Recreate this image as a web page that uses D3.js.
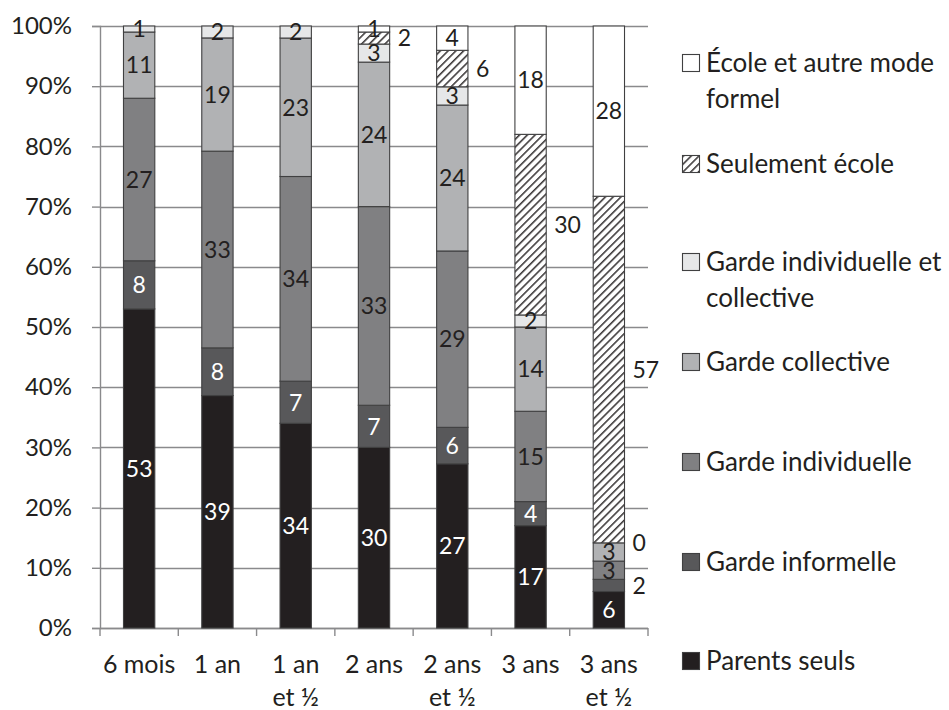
<!DOCTYPE html>
<html lang="fr">
<head>
<meta charset="utf-8">
<script src="https://cdn.jsdelivr.net/npm/d3@7"></script>
<style>
  html, body { margin: 0; padding: 0; background: #fff; }
  svg { display: block; font-family: Lato, "Open Sans", sans-serif; }
</style>
</head>
<body>
<svg id="chart" width="949" height="710"></svg>
<script>
// Age groups (x categories)
const categories = ["6 mois", "1 an", "1 an et ½", "2 ans", "2 ans et ½", "3 ans", "3 ans et ½"];

// Care arrangement shares (%) per age group, stacked bottom to top
const parentsSeuls        = [53, 39, 34, 30, 27, 17, 6];
const gardeInformelle     = [8, 8, 7, 7, 6, 4, 2];
const gardeIndividuelle   = [27, 33, 34, 33, 29, 15, 3];
const gardeCollective     = [11, 19, 23, 24, 24, 14, 3];
const gardeIndivCollect   = [1, 2, 2, 3, 3, 2, 0];
const seulementEcole      = [null, null, null, 2, 6, 30, 57];
const ecoleAutreFormel    = [null, null, null, 1, 4, 18, 28];

const yTicks = [0, 10, 20, 30, 40, 50, 60, 70, 80, 90, 100];

const series = [
  { key: "parents",  name: ["Parents seuls"],                         values: parentsSeuls,      fill: "#231f20", text: "#fff" },
  { key: "informel", name: ["Garde informelle"],                      values: gardeInformelle,   fill: "#58585a", text: "#fff" },
  { key: "indiv",    name: ["Garde individuelle"],                    values: gardeIndividuelle, fill: "#808082", text: "#231f20" },
  { key: "coll",     name: ["Garde collective"],                      values: gardeCollective,   fill: "#b1b2b4", text: "#231f20" },
  { key: "indcoll",  name: ["Garde individuelle et", "collective"],   values: gardeIndivCollect, fill: "#e6e7e8", text: "#231f20" },
  { key: "seul",     name: ["Seulement école"],                       values: seulementEcole,    fill: "url(#hatch)", text: "#231f20" },
  { key: "ecole",    name: ["École et autre mode", "formel"],         values: ecoleAutreFormel,  fill: "#ffffff", text: "#231f20" }
];

const svg = d3.select("#chart");
const margin = { left: 100, right: 301, top: 26, bottom: 82 };
const W = 949, H = 710;
const ink = "#231f20";
const gridGrey = "#8a8a8c";

// Diagonal hatch for "Seulement école"
const defs = svg.append("defs");
const pat = defs.append("pattern")
  .attr("id", "hatch").attr("patternUnits", "userSpaceOnUse")
  .attr("width", 5.5).attr("height", 5.5)
  .attr("patternTransform", "rotate(45)");
pat.append("rect").attr("width", 5.5).attr("height", 5.5).attr("fill", "#fff");
pat.append("line").attr("x1", 0.8).attr("y1", 0).attr("x2", 0.8).attr("y2", 5.5)
  .attr("stroke", ink).attr("stroke-width", 1.4);

const x = d3.scaleBand().domain(categories)
  .range([margin.left, W - margin.right]).paddingInner(0.6).paddingOuter(0.3);
const xEdges = d3.scalePoint().domain(d3.range(categories.length + 1))
  .range([margin.left, W - margin.right]);
const y = d3.scaleLinear().domain([0, 1]).range([H - margin.bottom, margin.top]);

// Build a table for d3.stack with normalised (100%) stacking
const rows = categories.map((c, i) => {
  const r = { cat: c };
  series.forEach(s => { r[s.key] = s.values[i] == null ? 0 : s.values[i]; });
  return r;
});
const stacked = d3.stack().keys(series.map(s => s.key)).offset(d3.stackOffsetExpand)(rows);

// Gridlines
svg.append("g").selectAll("line").data(yTicks).join("line")
  .attr("x1", margin.left).attr("x2", W - margin.right)
  .attr("y1", d => Math.round(y(d / 100)) + 0.5).attr("y2", d => Math.round(y(d / 100)) + 0.5)
  .attr("stroke", gridGrey).attr("stroke-width", 1.4);

// Y axis
const yAxis = d3.axisLeft(y).tickValues(yTicks.map(d => d / 100))
  .tickFormat(d => d3.format(".0%")(d)).tickSize(8).tickPadding(20);
const gy = svg.append("g").attr("transform", `translate(${margin.left},0)`).call(yAxis);
gy.select(".domain").attr("stroke", gridGrey).attr("stroke-width", 1.4);
gy.selectAll(".tick line").attr("stroke", gridGrey).attr("stroke-width", 1.4);
gy.selectAll(".tick text").attr("font-size", 24).attr("fill", ink)
  .attr("font-family", "Lato, 'Open Sans', sans-serif");

// X axis baseline and category separators
const xg = svg.append("g");
xg.append("line").attr("x1", margin.left).attr("x2", W - margin.right)
  .attr("y1", y(0) + 0.5).attr("y2", y(0) + 0.5).attr("stroke", gridGrey).attr("stroke-width", 1.4);
xg.selectAll("line.sep").data(d3.range(categories.length + 1)).join("line")
  .attr("class", "sep")
  .attr("x1", d => xEdges(d)).attr("x2", d => xEdges(d))
  .attr("y1", y(0)).attr("y2", y(0) + 8)
  .attr("stroke", gridGrey).attr("stroke-width", 1.4);

// Category labels, wrapped before "et ½"
const catLabels = xg.selectAll("text.cat").data(categories).join("text")
  .attr("class", "cat")
  .attr("x", d => x(d) + x.bandwidth() / 2)
  .attr("y", y(0) + 45)
  .attr("text-anchor", "middle").attr("font-size", 25).attr("fill", ink);
catLabels.each(function (d) {
  const parts = d.split(" et ");
  const t = d3.select(this);
  t.append("tspan").attr("x", x(d) + x.bandwidth() / 2).text(parts[0]);
  if (parts.length > 1) {
    t.append("tspan").attr("x", x(d) + x.bandwidth() / 2).attr("dy", 33).text("et " + parts[1]);
  }
});

// Bars
const layers = svg.append("g").selectAll("g").data(stacked).join("g")
  .attr("fill", (d, i) => series[i].fill);
layers.selectAll("rect").data((d, i) => d.filter((p, ci) => series[i].values[ci] !== null)).join("rect")
  .attr("x", d => x(d.data.cat))
  .attr("width", x.bandwidth())
  .attr("y", d => y(d[1]))
  .attr("height", d => Math.max(0, y(d[0]) - y(d[1])))
  .attr("stroke", "#404041").attr("stroke-width", 1.1);

// Value labels: hatched and tiny last-group segments sit to the right of the bar
const labels = svg.append("g");
stacked.forEach((layer, si) => {
  const s = series[si];
  layer.forEach((p, ci) => {
    const v = s.values[ci];
    if (v == null) return;
    const outside = s.key === "seul" || (ci === categories.length - 1 && v < 3);
    const cx = x(categories[ci]) + x.bandwidth() / 2;
    const cy = (y(p[0]) + y(p[1])) / 2;
    labels.append("text")
      .attr("x", outside ? x(categories[ci]) + x.bandwidth() + 8 : cx)
      .attr("y", cy)
      .attr("dy", "0.36em")
      .attr("text-anchor", outside ? "start" : "middle")
      .attr("font-size", 23)
      .attr("fill", outside ? ink : s.text)
      .text(v);
  });
});

// Legend, top entry first
const legendSeries = series.slice().reverse();
const lg = svg.append("g").attr("transform", "translate(682,0)");
const legendY = [63, 164, 262, 362, 462, 562, 661];
legendSeries.forEach((s, i) => {
  const g = lg.append("g").attr("transform", `translate(0,${legendY[i]})`);
  g.append("rect").attr("x", 0.5).attr("y", -8.5).attr("width", 17).attr("height", 17)
    .attr("fill", s.fill).attr("stroke", "#404041").attr("stroke-width", 1.1);
  s.name.forEach((line, li) => {
    g.append("text").attr("x", 24).attr("y", li * 36).attr("dy", "0.36em")
      .attr("font-size", 26).attr("fill", ink).text(line);
  });
});
</script>
</body>
</html>
